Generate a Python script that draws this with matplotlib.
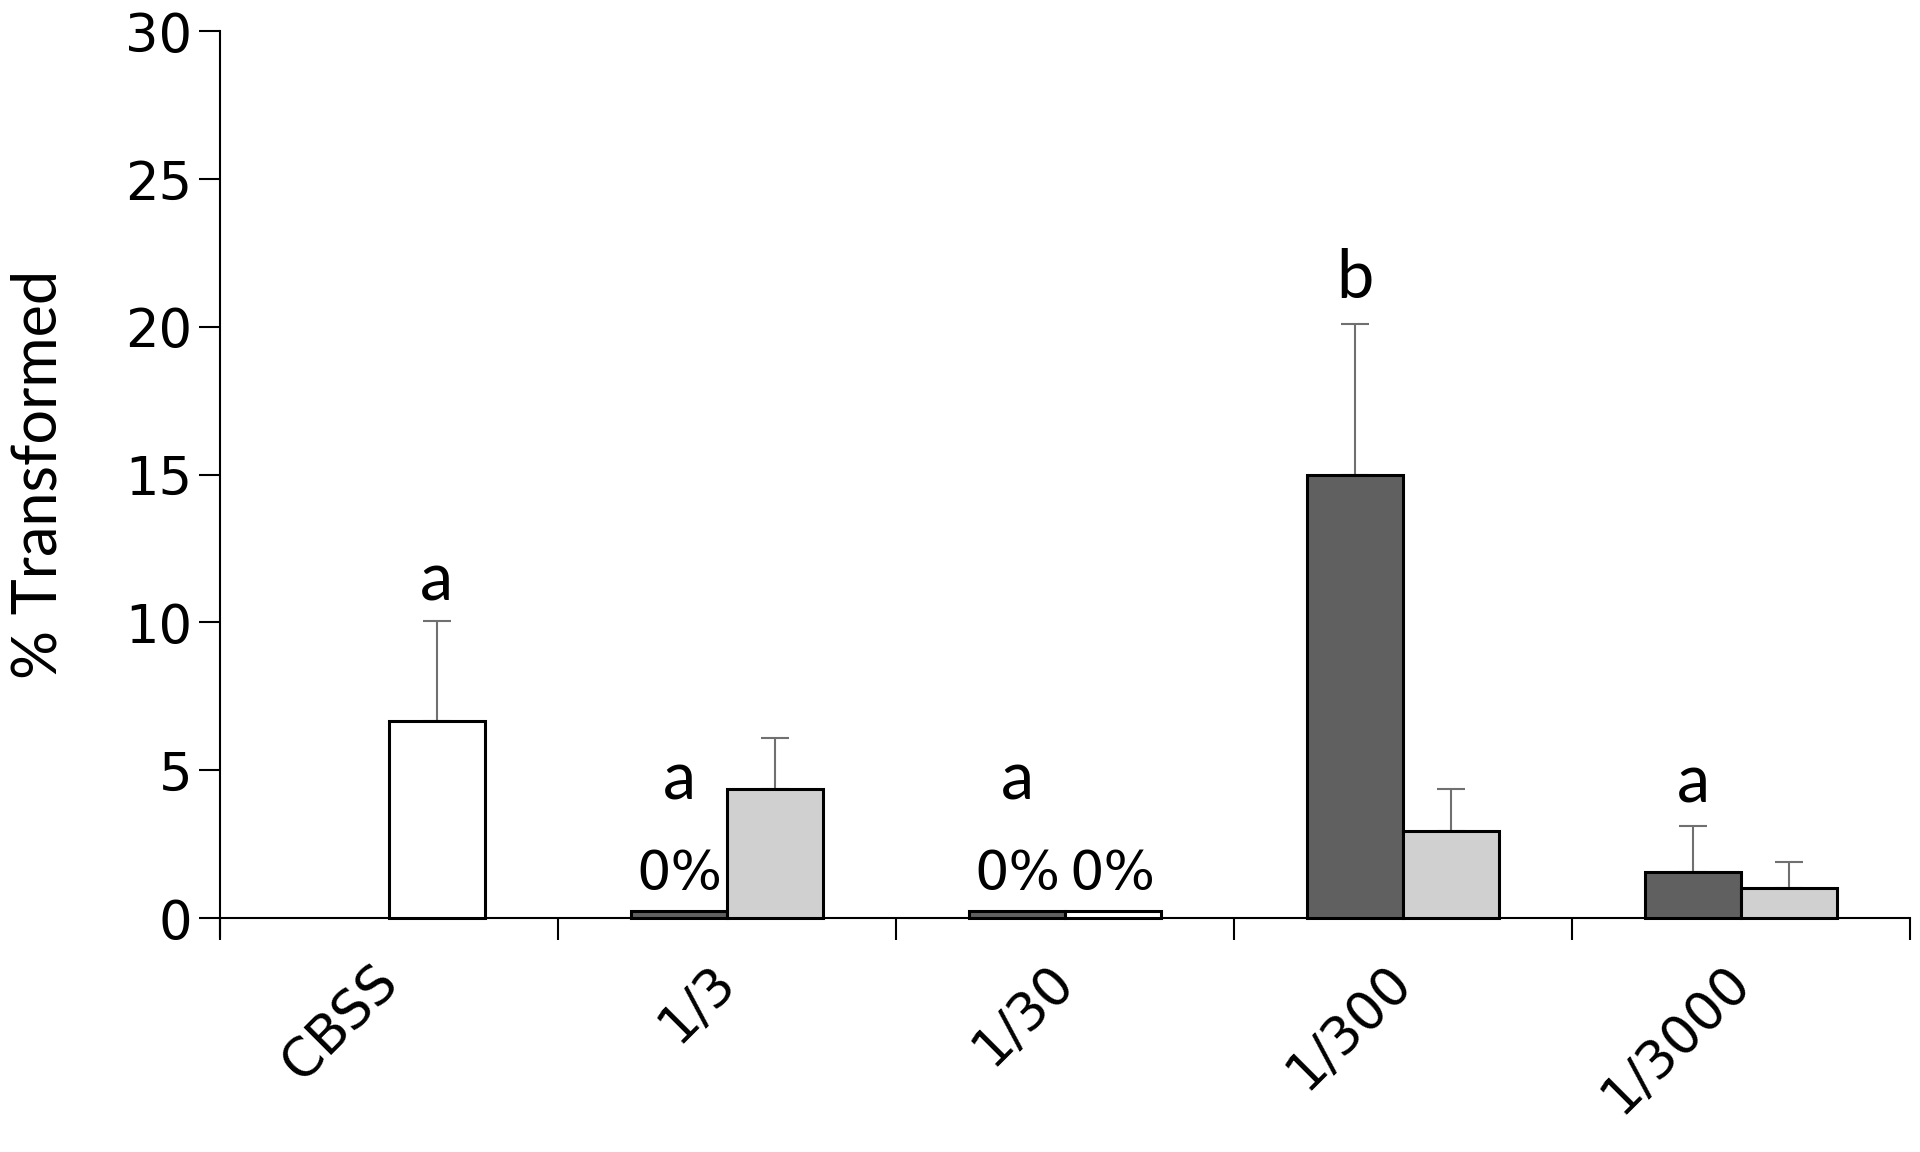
import numpy as np
import matplotlib
matplotlib.use('Agg')
import matplotlib.pyplot as plt
from matplotlib.ticker import FixedLocator

# data
categories = ['CBSS', '1/3', '1/30', '1/300', '1/3000']
dark_vals = [np.nan, 0.25, 0.25, 15.0, 1.55]
dark_err = [0.0, 0.0, 0.0, 5.1, 1.55]
light_vals = [6.65, 4.35, 0.25, 2.95, 1.0]
light_err = [3.4, 1.75, 0.0, 1.4, 0.9]
light_colors = ['#ffffff', '#d0d0d0', '#ffffff', '#d0d0d0', '#d0d0d0']
letters = ['a', 'a', 'a', 'b', 'a']
letter_on = ['light', 'dark', 'dark', 'dark', 'dark']
letter_y = [10.35, 3.6, 3.6, 20.55, 3.5]
zero_labels = [(1, 'dark'), (2, 'dark'), (2, 'light')]

plt.rcParams['font.family'] = ['Lato', 'DejaVu Sans']
tick_font = 'DejaVu Sans'

fig = plt.figure(figsize=(19.2, 11.52), dpi=100)
ax = fig.add_axes([0.1146, 0.1877, 0.8802, 0.7853])

# spine position first: moving it resets the tick settings
ax.spines['top'].set_visible(False)
ax.spines['right'].set_visible(False)
ax.spines['bottom'].set_position(('data', 0))
ax.spines['bottom'].set_linewidth(1.5)
ax.spines['left'].set_linewidth(1.5)

x = np.arange(len(categories))
w = 0.283
dark_x = x - w / 2
light_x = x + w / 2

ax.bar(dark_x, dark_vals, width=w, color='#606060', edgecolor='black', linewidth=2.2, zorder=3)
ax.bar(light_x, light_vals, width=w, color=light_colors, edgecolor='black', linewidth=2.2, zorder=3)

# upper error bars only
for xs, vals, errs in [(dark_x, dark_vals, dark_err), (light_x, light_vals, light_err)]:
    for xi, v, e in zip(xs, vals, errs):
        if np.isnan(v) or e <= 0:
            continue
        ax.errorbar(xi, v, yerr=[[0], [e]], fmt='none', ecolor='#707070',
                    elinewidth=1.5, capsize=10, capthick=1.5, zorder=2)

# significance letters
for i, (lt, on, ly) in enumerate(zip(letters, letter_on, letter_y)):
    lx = light_x[i] if on == 'light' else dark_x[i]
    ax.text(lx, ly, lt, ha='center', va='bottom', fontsize=48, color='black')

for i, which in zero_labels:
    zx = dark_x[i] if which == 'dark' else light_x[i]
    zv = dark_vals[i] if which == 'dark' else light_vals[i]
    ax.text(zx, zv + 0.35, '0%', ha='center', va='bottom', fontsize=39,
            family=tick_font, color='black')

ax.set_xlim(-0.5, len(categories) - 0.5)
ax.set_ylim(-0.6, 30)
ax.set_yticks([0, 5, 10, 15, 20, 25, 30])
ax.set_yticklabels(['0', '5', '10', '15', '20', '25', '30'], family=tick_font, fontsize=38)
ax.tick_params(axis='y', length=15, width=1.5, pad=5)

ax.set_xticks(x)
ax.set_xticklabels(categories, rotation=45, ha='right', va='center',
                   rotation_mode='anchor', fontsize=38, family=tick_font)
ax.xaxis.set_minor_locator(FixedLocator(np.arange(-0.5, len(categories), 1.0)))
ax.tick_params(axis='x', which='major', length=0, pad=40)
ax.tick_params(axis='x', which='minor', length=16, width=1.5, direction='out')

ax.set_ylabel('% Transformed', fontsize=44)
ax.yaxis.set_label_coords(-0.0905, 0.51)

fig.savefig('out.png', dpi=100)
